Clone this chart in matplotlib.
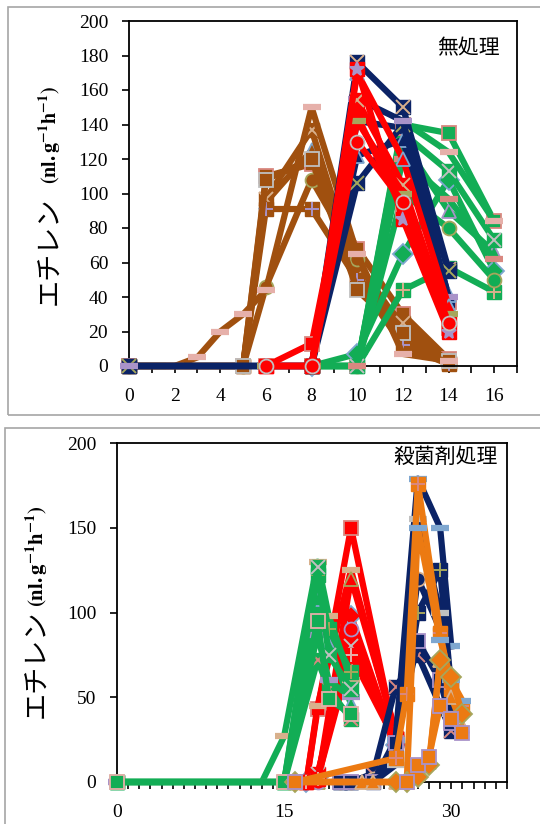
import matplotlib
matplotlib.use('Agg')
import matplotlib.pyplot as plt
from matplotlib.patches import Rectangle
from matplotlib.ticker import MultipleLocator, FixedLocator

plt.rcParams['font.family'] = ['Liberation Serif', 'Noto Sans CJK JP']
plt.rcParams['mathtext.fontset'] = 'stix'

# ---------- top panel (無処理) ----------
top_brown_x = [0, 2, 3, 4, 5, 6, 8, 10, 12, 14]
top_brown_y = [
    [0, None, None, None, 0, 110, 117, 68, 30, 4],
    [0, None, None, None, 0, 95, 125, 60, 22, 3],
    [0, None, None, None, 0, 97, 137, 52, 25, 2],
    [0, None, None, None, 0, 46, 108, 62, 15, 2],
    [0, None, None, None, 0, 91, 91, 50, 12, 1],
    [0, None, None, None, 0, 108, 120, 44, 19, 3],
    [0, 0, 5, 20, 30, 44, 150, 65, 7, 3],
]
top_red_x = [6, 8, 10, 12, 14]
top_red_y = [
    [0, 13, 145, 90, 22],
    [0, 0, 170, 120, 35],
    [0, 0, 154, 105, 27],
    [0, 0, 142, 100, 30],
    [0, 0, 172, 85, 20],
    [0, 0, 130, 95, 25],
]
top_navy_x = [0, 8, 10, 12, 14]
top_navy_y = [
    [0, 0, 142, 138, 37],
    [0, 0, 122, 131, 41],
    [0, 0, 176, 150, 56],
    [0, 0, 106, 140, 55],
    [0, 0, 155, 142, 40],
]
top_green_x = [8, 10, 12, 14, 16]
top_green_y = [
    [0, 0, 140, 135, 84],
    [0, 7, 65, 108, 55],
    [0, 0, 44, 57, 43],
    [0, 0, 100, 80, 50],
    [0, 0, 130, 90, 66],
    [0, 0, 135, 113, 73],
    [0, 0, 142, 124, 84],
    [0, 0, 120, 97, 62],
]

# ---------- bottom panel (殺菌剤処理) ----------
bot_green_x = [0, 13, 15, 18, 19, 21]
bot_green_y = [
    [0, None, 0, 72, 55, 37],
    [0, None, 0, 108, 81, 46],
    [0, 0, 27, 130, 98, 60],
    [0, None, 0, 122, 90, 65],
    [0, None, 0, 87, 60, 50],
    [0, None, 0, 127, 75, 55],
    [0, None, 0, 95, 49, 40],
]
bot_red_x = [17, 18, 21, 25]
bot_red_y = [
    [0, 43, 150, 25],
    [0, 3, 98, 22],
    [0, 45, 125, 28],
    [0, 0, 120, 30],
    [0, 0, 90, 20],
    [0, 5, 80, 26],
    [0, 2, 75, 24],
]
bot_navy_x = [20, 21, 23, 25, 27, 29, 30]
bot_navy_y = [
    [0, 0, 5, 56, 75, None, 30],
    [0, 0, 0, 25, 179, 150, 80],
    [0, 0, 2, 20, 120, 90, 45],
    [0, 0, 0, 15, 100, 125, 55],
    [0, 0, 0, 23, 83, 60, 35],
    [0, 0, 0, 10, 155, 100, 40],
]
bot_orange_x = [16, 22, 23, 25, 26, 27, 28, 29, 30, 31]
bot_orange_y = [
    [0, None, None, 14, 52, 176, None, 88, 55, 45],
    [0, None, None, None, 0, 150, None, 84, 60, 48],
    [0, 0, 0, 0, 0, 5, 12, 72, 50, 33],
    [0, None, None, 0, 0, 3, 10, 72, 62, 40],
    [0, None, None, None, 0, 10, 15, 45, 37, 29],
]

edges = ['#d98880', '#7fa7d0', '#d8b08c', '#a6a65c', '#a993c9', '#c0c0c0', '#e6b0aa']


def draw(ax, x, series, color, marks, z):
    for i, y in enumerate(series):
        px = [a for a, b in zip(x, y) if b is not None]
        py = [b for b in y if b is not None]
        m = marks[i % len(marks)]
        ec = edges[i % len(edges)]
        if m in ('x', '+', '*'):
            ax.plot(px, py, color=color, lw=4.5, marker='s', ms=10, mfc=color,
                    mec=color, zorder=z, clip_on=False)
            ax.plot(px, py, ls='none', marker=m, ms=10, mew=1.4, color=ec,
                    zorder=z, clip_on=False)
        elif m == '_':
            ax.plot(px, py, color=color, lw=4.5, marker='_', ms=13, mew=4.5,
                    mec=ec, zorder=z, clip_on=False)
        else:
            ax.plot(px, py, color=color, lw=4.5, marker=m, ms=10, mfc=color,
                    mec=ec, mew=1.3, zorder=z, clip_on=False)


def style(ax):
    for s in ax.spines.values():
        s.set_linewidth(1.3)
    ax.tick_params(which='both', direction='out', length=5, width=1.2,
                   labelsize=14, top=False, right=False)
    ax.tick_params(axis='x', pad=11)
    ax.tick_params(axis='y', pad=10)


fig = plt.figure(figsize=(5.4, 8.24), dpi=100)
W, H = 540, 824

fig.patches.append(Rectangle((8 / W, 1 - 415 / H), 560 / W, 408 / H,
                             transform=fig.transFigure, fill=False,
                             ec='#a6a6a6', lw=1.2))
fig.patches.append(Rectangle((5 / W, -10 / H), 560 / W, (824 - 428 + 10) / H,
                             transform=fig.transFigure, fill=False,
                             ec='#a6a6a6', lw=1.2))

# top
ax1 = fig.add_axes([129 / W, 1 - 366 / H, 388 / W, 345 / H])
draw(ax1, top_brown_x, top_brown_y, '#A0500F', ['s', '^', 'x', 'o', '+', 's', '_'], 2)
draw(ax1, top_green_x, top_green_y, '#12AD55', ['s', 'D', '+', 'o', '^', 'x', '_', '_'], 3)
draw(ax1, top_navy_x, top_navy_y, '#0B2366', ['s', '^', 'x', 'x', '_'], 4)
draw(ax1, top_red_x, top_red_y, '#FF0000', ['s', '^', 'x', '_', '*', 'o'], 5)
ax1.set_xlim(0, 17)
ax1.set_ylim(0, 200)
ax1.xaxis.set_major_locator(FixedLocator(range(0, 17, 2)))
ax1.xaxis.set_minor_locator(MultipleLocator(1))
ax1.yaxis.set_major_locator(MultipleLocator(20))
style(ax1)

# bottom
ax2 = fig.add_axes([117 / W, 1 - 782 / H, 390 / W, 339 / H])
draw(ax2, bot_red_x, bot_red_y, '#FF0000', ['s', 'D', '_', '^', 'o', 'x', '+'], 2)
draw(ax2, bot_green_x, bot_green_y, '#12AD55', ['x', '^', '_', '+', '_', 'x', 's'], 3)
draw(ax2, bot_navy_x, bot_navy_y, '#0B2366', ['x', '_', 'o', '+', 's', '_'], 4)
draw(ax2, bot_orange_x, bot_orange_y, '#EC7A12', ['+', '_', '^', 'D', 's'], 5)
ax2.set_xlim(0, 35)
ax2.set_ylim(0, 200)
ax2.xaxis.set_major_locator(FixedLocator([0, 15, 30]))
ax2.xaxis.set_minor_locator(MultipleLocator(1))
ax2.yaxis.set_major_locator(MultipleLocator(50))
style(ax2)

# panel titles
fig.text(468 / W, 1 - 48 / H, '無処理', ha='center', va='center',
         fontsize=15, family='Noto Sans CJK JP')
fig.text(446 / W, 1 - 457 / H, '殺菌剤処理', ha='center', va='center',
         fontsize=15, family='Noto Sans CJK JP')

# y labels
unit = r'$\mathbf{(nl.g^{-1}h^{-1})}$'
fig.text(50 / W, 1 - 305 / H, 'エチレン', rotation=90, ha='center', va='bottom',
         fontsize=19.5, family='Noto Sans CJK JP')
fig.text(50 / W, 1 - 86 / H, unit, rotation=90, ha='center', va='top', fontsize=14.5)
fig.text(37 / W, 1 - 718 / H, 'エチレン', rotation=90, ha='center', va='bottom',
         fontsize=19.5, family='Noto Sans CJK JP')
fig.text(37 / W, 1 - 505 / H, unit, rotation=90, ha='center', va='top', fontsize=15)

fig.savefig('out.png', dpi=100)
